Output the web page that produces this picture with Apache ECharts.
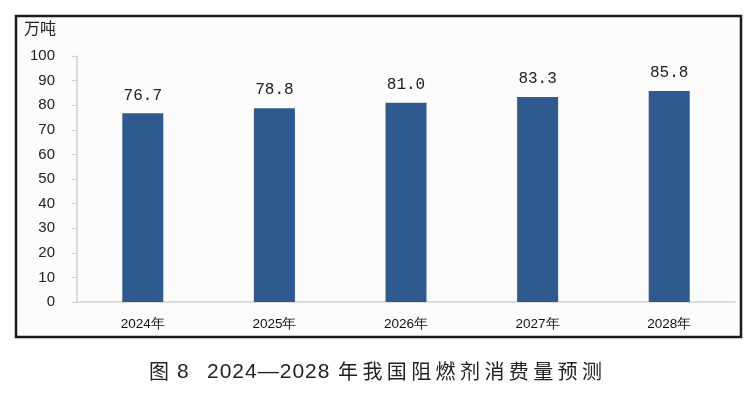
<!DOCTYPE html>
<html>
<head>
<meta charset="utf-8">
<script src="https://cdn.jsdelivr.net/npm/echarts@6/dist/echarts.min.js"></script>
<style>
  html, body { margin: 0; padding: 0; background: #fff; }
  #wrap { position: relative; width: 748px; height: 397px; }
  #chart { width: 748px; height: 397px; }
  .cap {
    position: absolute; top: 360px; line-height: 22px; color: #222;
    white-space: nowrap;
  }
  .cjk { font-family: "Noto Sans CJK SC", sans-serif; font-size: 20px; }
  .num { font-family: "Liberation Sans", sans-serif; font-size: 21px; }
</style>
</head>
<body>
<div id="wrap">
  <div id="chart"></div>
  <!-- 图题 -->
  <span class="cap cjk" style="left:149px">图</span>
  <span class="cap num" style="left:177px">8</span>
  <span class="cap num" style="left:207px;letter-spacing:1px">2024—2028</span>
  <span class="cap cjk" style="left:338px;letter-spacing:4.4px">年我国阻燃剂消费量预测</span>
</div>
<script>
const years = ['2024年', '2025年', '2026年', '2027年', '2028年']
const consumption = [76.7, 78.8, 81.0, 83.3, 85.8]
const unitName = '万吨'

const chart = echarts.init(document.getElementById('chart'))
chart.setOption({
  animation: false,
  graphic: [{
    type: 'rect',
    shape: { x: 16, y: 16, width: 725, height: 321 },
    style: { fill: '#fcfcfc', stroke: '#1a1a1a', lineWidth: 2.5 },
    z: -1
  }, {
    type: 'text',
    left: 24, top: 20,
    style: {
      text: unitName,
      font: '16px "Noto Sans CJK SC"',
      fill: '#222'
    }
  }],
  grid: {
    left: 77,
    right: 13,
    top: 56,
    bottom: 95
  },
  xAxis: {
    type: 'category',
    data: years,
    axisLine: { lineStyle: { color: '#d0d0d0', width: 1.5 } },
    axisTick: { show: false },
    axisLabel: {
      color: '#111',
      fontSize: 13.5,
      fontFamily: 'Liberation Sans',
      margin: 15
    }
  },
  yAxis: {
    type: 'value',
    min: 0,
    max: 100,
    interval: 10,
    splitLine: { show: false },
    axisLine: { show: true, lineStyle: { color: '#d0d0d0', width: 1.5 } },
    axisTick: { show: true, length: 5, lineStyle: { color: '#d0d0d0' } },
    axisLabel: {
      color: '#222',
      fontSize: 15,
      fontFamily: 'Liberation Sans',
      margin: 22
    }
  },
  series: [{
    type: 'bar',
    data: consumption,
    barWidth: 41,
    itemStyle: { color: '#2e5a8f' },
    label: {
      show: true,
      position: 'top',
      distance: 10,
      color: '#222',
      fontSize: 16,
      fontFamily: 'Liberation Mono',
      formatter: (p) => p.value.toFixed(1)
    }
  }]
})
</script>
</body>
</html>
